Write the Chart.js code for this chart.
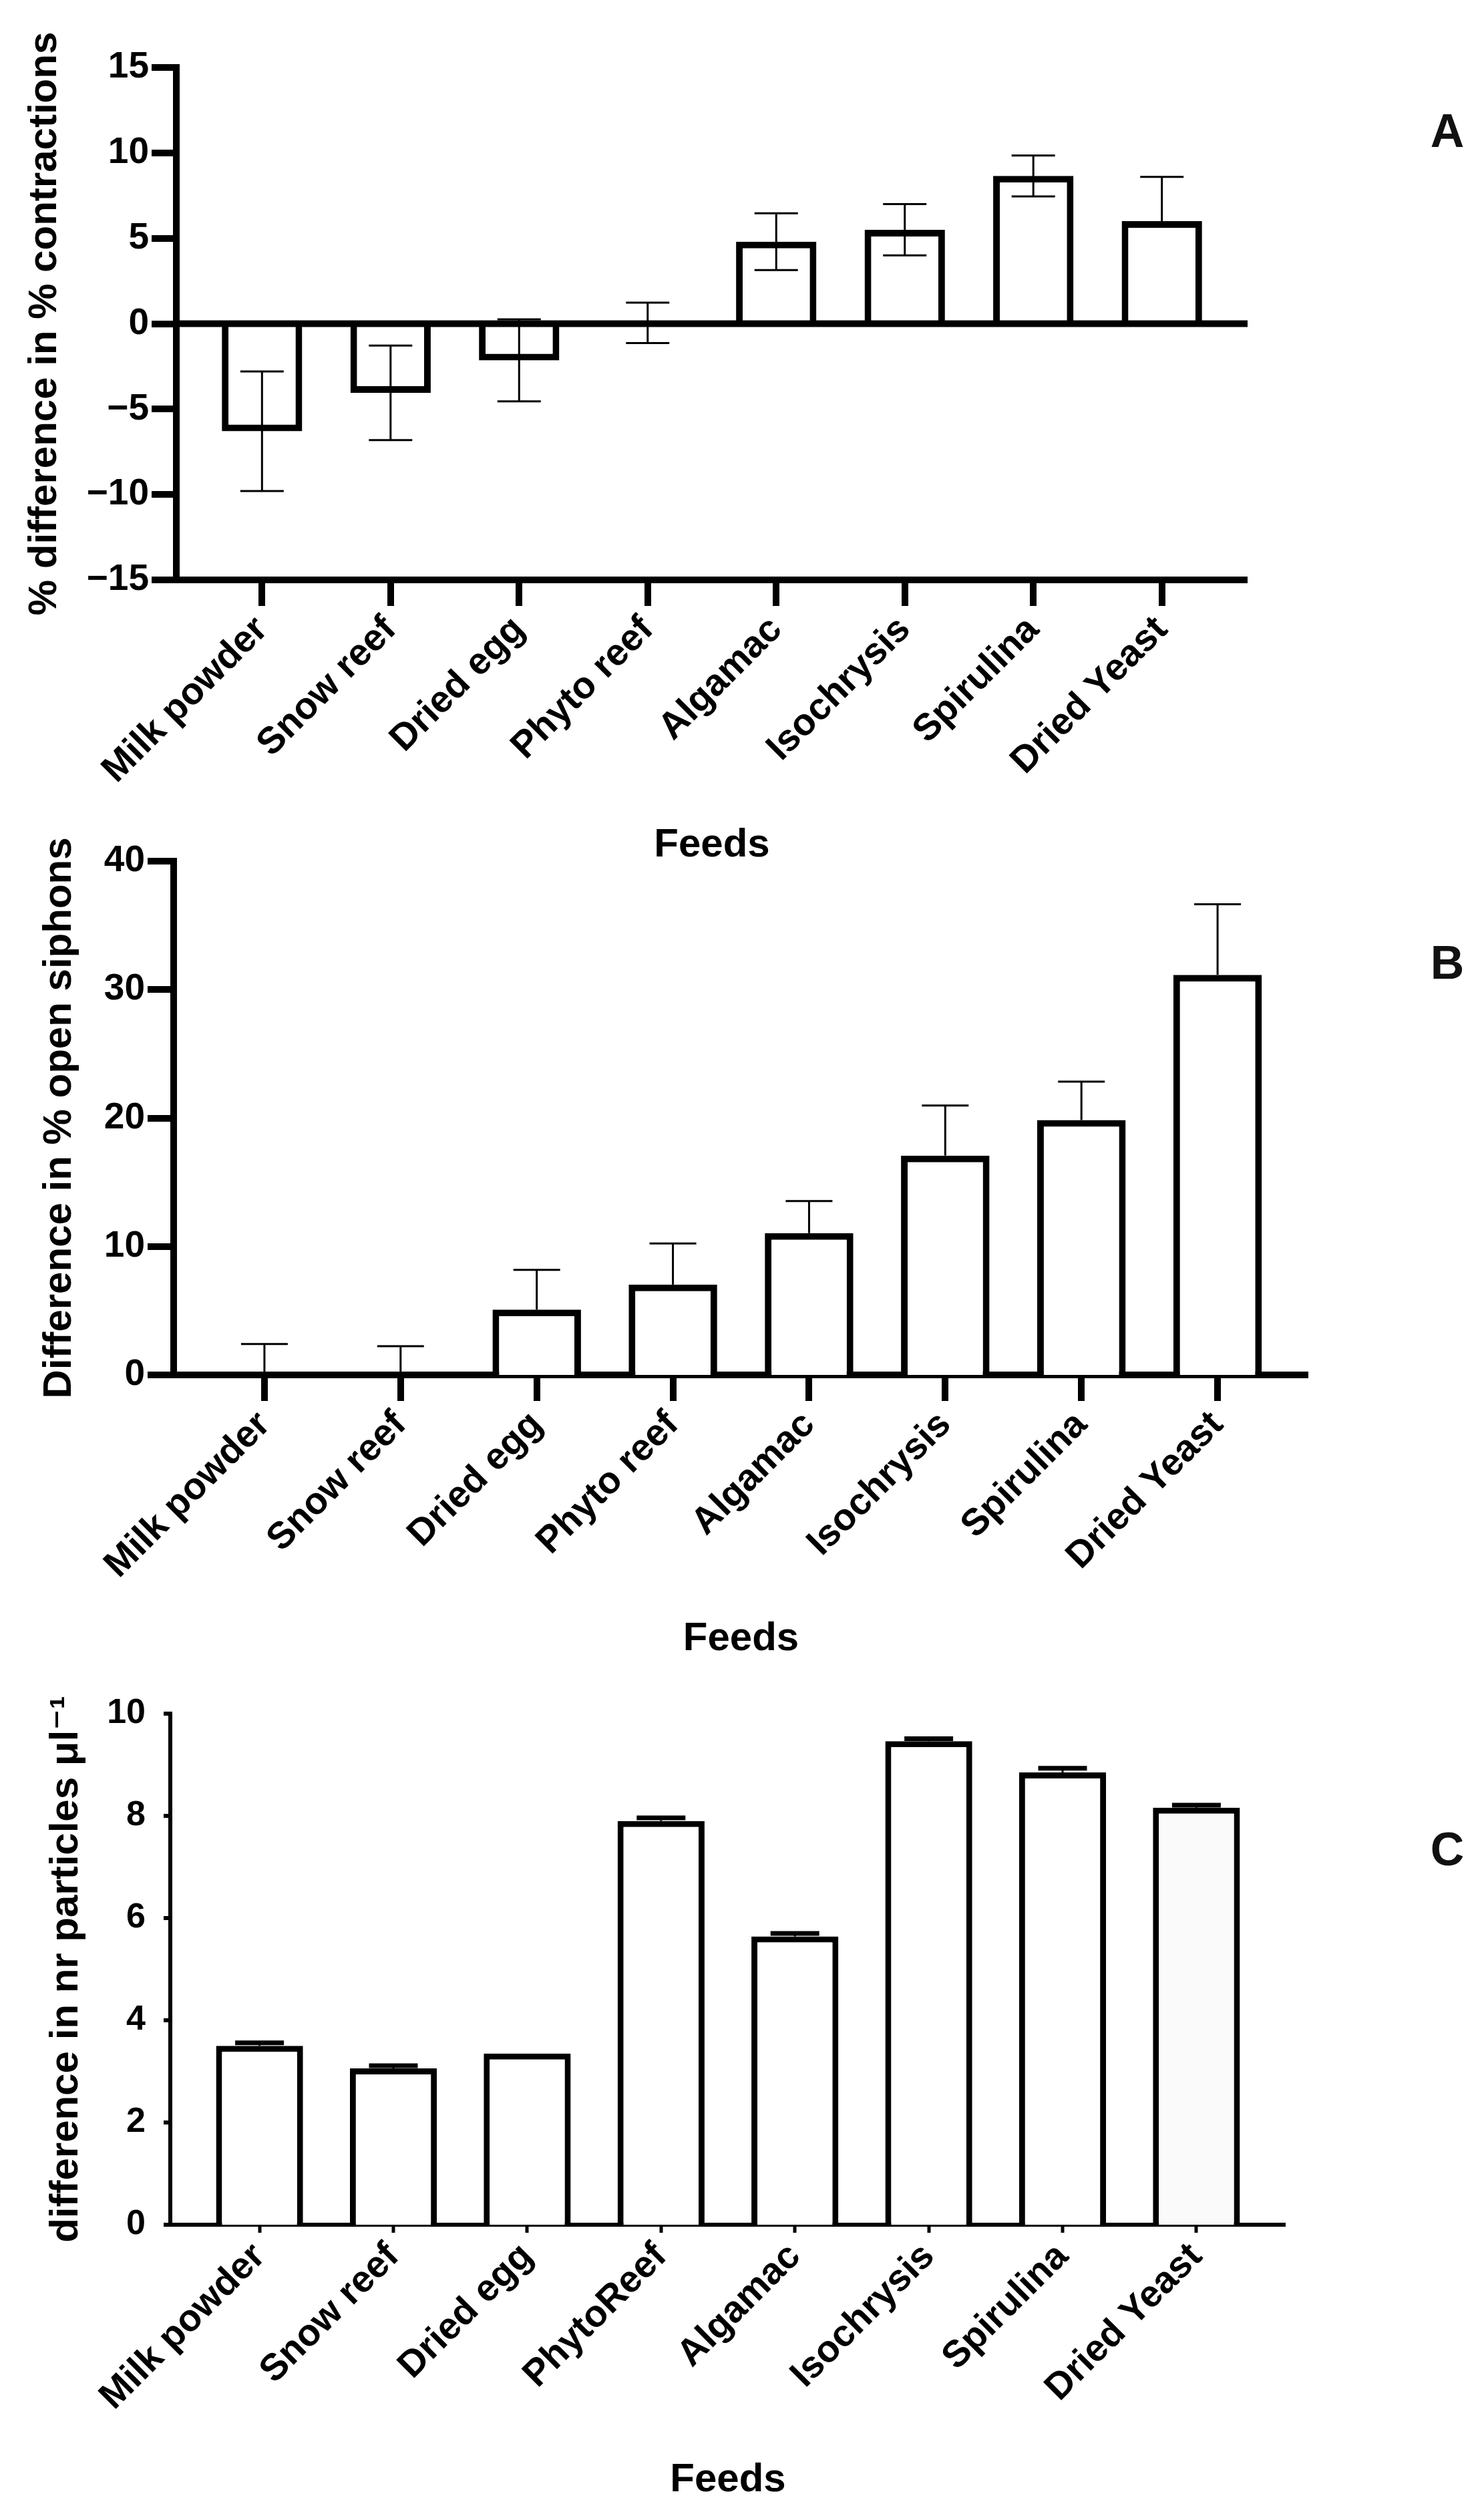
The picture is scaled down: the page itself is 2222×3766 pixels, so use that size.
<!DOCTYPE html>
<html>
<head>
<meta charset="utf-8">
<script src="https://cdn.jsdelivr.net/npm/chart.js@4.4.1/dist/chart.umd.min.js"></script>
<style>
  html, body { margin: 0; padding: 0; background: #fff; }
  #page { position: relative; width: 2222px; height: 3766px; overflow: hidden; background: #fff; }
  #page canvas { position: absolute; }
  .tag { position: absolute; font: bold 70px 'Liberation Sans', Arial, sans-serif; color: #111; line-height: 1; transform: translateX(-50%); }
</style>
</head>
<body>
<div id="page">
  <div class="tag" style="left:2167px;top:161px">A</div>
  <div class="tag" style="left:2167px;top:1406px">B</div>
  <div class="tag" style="left:2167px;top:2733px">C</div>
</div>
<script>
// categories
var feeds = ['Milk powder', 'Snow reef', 'Dried egg', 'Phyto reef', 'Algamac', 'Isochrysis', 'Spirulina', 'Dried Yeast'];
var feedsC = ['Milk powder', 'Snow reef', 'Dried egg', 'PhytoReef', 'Algamac', 'Isochrysis', 'Spirulina', 'Dried Yeast'];

// A: % difference in % contractions
var contractions = [-6.3, -4.05, -2.15, 0.05, 4.8, 5.5, 8.65, 6.0];
var contractionsUp = [3.5, 2.77, 2.4, 1.18, 1.66, 1.5, 1.2, 2.6];
var contractionsDown = [3.5, 2.77, 2.4, 1.18, 1.66, 1.5, 1.2, 0];
var contractionsTicks = [-15, -10, -5, 0, 5, 10, 15];

// B: difference in % open siphons
var siphons = [0, 0, 5.08, 7.03, 11.04, 17.08, 19.84, 31.15];
var siphonsUp = [2.4, 2.24, 3.1, 3.2, 2.5, 3.9, 3.0, 5.5];
var siphonsDown = [0, 0, 0, 0, 0, 0, 0, 0];
var siphonsTicks = [0, 10, 20, 30, 40];

// C: difference in nr particles per ul
var particles = [3.50, 3.06, 3.35, 7.90, 5.64, 9.46, 8.85, 8.16];
var particlesErr = [0.06, 0.05, 0, 0.06, 0.06, 0.05, 0.08, 0.05];
var particlesTicks = [0, 2, 4, 6, 8, 10];

Chart.defaults.font.family = "'Liberation Sans', Arial, 'DejaVu Sans', sans-serif";
Chart.defaults.color = '#000';

// zero line across the plot (panel A), over the bar bases
var zeroLine = {
    id: 'zeroLine',
    afterDatasetsDraw: function (chart) {
        var ds = chart.data.datasets[0];
        if (!ds.zeroLine) return;
        var y0 = chart.scales.y.getPixelForValue(0);
        var ctx = chart.ctx;
        ctx.save();
        ctx.strokeStyle = '#000';
        ctx.lineWidth = ds.zeroLine;
        ctx.beginPath();
        ctx.moveTo(chart.chartArea.left, y0);
        ctx.lineTo(chart.chartArea.right, y0);
        ctx.stroke();
        ctx.restore();
    }
};

var errorBars = {
    id: 'errorBars',
    afterDatasetsDraw: function (chart) {
        var ds = chart.data.datasets[0];
        var meta = chart.getDatasetMeta(0);
        var y = chart.scales.y;
        var ctx = chart.ctx;
        ctx.save();
        ctx.strokeStyle = '#000';
        meta.data.forEach(function (bar, i) {
            var v = ds.data[i].y;
            if (!ds.errUp[i] && !ds.errDown[i]) return;
            var top = y.getPixelForValue(v + ds.errUp[i]);
            var bot = y.getPixelForValue(v - ds.errDown[i]);
            var half = ds.capW / 2;
            ctx.lineWidth = ds.stemW;
            ctx.beginPath();
            ctx.moveTo(bar.x, top);
            ctx.lineTo(bar.x, bot);
            ctx.stroke();
            ctx.lineWidth = ds.capLine;
            if (ds.errUp[i] > 0) {
                ctx.beginPath();
                ctx.moveTo(bar.x - half, top);
                ctx.lineTo(bar.x + half, top);
                ctx.stroke();
            }
            if (ds.errDown[i] > 0) {
                ctx.beginPath();
                ctx.moveTo(bar.x - half, bot);
                ctx.lineTo(bar.x + half, bot);
                ctx.stroke();
            }
        });
        ctx.restore();
    }
};

function config(p) {
    var n = p.cats.length;
    return {
        type: 'bar',
        data: {
            datasets: [{
                data: p.values.map(function (v, i) { return { x: i, y: v }; }),
                errUp: p.up,
                errDown: p.down,
                capW: p.capW,
                capLine: p.capLine,
                stemW: 3,
                zeroLine: p.zeroLine ? p.axisW : 0,
                backgroundColor: p.fills,
                borderColor: '#000',
                borderWidth: p.barBorder,
                borderSkipped: 'start',
                inflateAmount: 0,
                barPercentage: p.barPct,
                categoryPercentage: 1
            }]
        },
        options: {
            responsive: false,
            animation: false,
            devicePixelRatio: 1,
            layout: { padding: { top: 130, right: 40, left: 0, bottom: 0 } },
            plugins: { legend: { display: false }, tooltip: { enabled: false } },
            scales: {
                x: {
                    type: 'linear',
                    z: 1,
                    min: -2 / 3,
                    max: n - 1 + 2 / 3,
                    offset: false,
                    afterBuildTicks: function (s) {
                        s.ticks = p.cats.map(function (c, i) { return { value: i }; });
                    },
                    afterFit: function (s) { s.height = p.xHeight; },
                    grid: {
                        offset: false,
                        drawOnChartArea: false,
                        drawTicks: true,
                        lineWidth: 0,
                        tickLength: p.xTickLen,
                        tickWidth: p.xTickW,
                        tickColor: '#000'
                    },
                    border: { display: true, color: '#000', width: p.axisW },
                    ticks: {
                        autoSkip: false,
                        minRotation: 45,
                        maxRotation: 45,
                        padding: 3,
                        font: { size: 56, weight: 'bold' },
                        callback: function (v) { return p.cats[v]; }
                    },
                    title: {
                        display: true,
                        text: 'Feeds',
                        font: { size: 60, weight: 'bold' },
                        padding: { top: 0, bottom: 0 }
                    }
                },
                y: {
                    min: p.ticks[0],
                    max: p.ticks[p.ticks.length - 1],
                    afterBuildTicks: function (s) {
                        s.ticks = p.ticks.map(function (v) { return { value: v }; });
                    },
                    afterFit: function (s) { s.width = p.left; },
                    grid: {
                        drawOnChartArea: false,
                        lineWidth: 0,
                        drawTicks: true,
                        tickLength: p.yTickLen,
                        tickWidth: p.yTickW,
                        tickColor: '#000'
                    },
                    border: { display: true, color: '#000', width: p.axisW },
                    ticks: {
                        padding: p.yTickPad,
                        font: { size: p.tickSize, weight: 'bold' },
                        callback: function (v) { return v < 0 ? '\u2212' + (-v) : String(v); }
                    },
                    title: {
                        display: true,
                        text: p.yTitle,
                        font: { size: 60, weight: 'bold' },
                        padding: { top: p.titlePad, bottom: 0 }
                    }
                }
            }
        },
        plugins: [zeroLine, errorBars]
    };
}

function buildPanel(p) {
    var page = document.getElementById('page');
    function make(w, h) {
        var c = document.createElement('canvas');
        c.width = w;
        c.height = h;
        c.style.width = w + 'px';
        c.style.height = h + 'px';
        page.appendChild(c);
        return { canvas: c, chart: new Chart(c, config(p)) };
    }
    // first pass to measure, second pass sized so the plot area lands where it should
    var first = make(p.right + 40, p.bottom - p.top + p.xHeight + 170);
    var a = first.chart.chartArea;
    var w = first.canvas.width + (p.right - p.left) - (a.right - a.left);
    var h = first.canvas.height + (p.bottom - p.top) - (a.bottom - a.top);
    first.chart.destroy();
    page.removeChild(first.canvas);
    var second = make(Math.round(w), Math.round(h));
    var b = second.chart.chartArea;
    second.canvas.style.left = (p.left - b.left) + 'px';
    second.canvas.style.top = (p.top - b.top) + 'px';
}

var white = ['#fff', '#fff', '#fff', '#fff', '#fff', '#fff', '#fff', '#fff'];

buildPanel({
    cats: feeds, values: contractions, up: contractionsUp, down: contractionsDown, ticks: contractionsTicks,
    yTitle: '% difference in % contractions', fills: white, zeroLine: true,
    left: 264, top: 101, right: 1868, bottom: 868, xHeight: 433, titlePad: 31,
    axisW: 10, barBorder: 10, yTickLen: 37, xTickLen: 39, yTickW: 10, xTickW: 10, yTickPad: 4, tickSize: 55,
    barPct: 0.625, capLine: 3, capW: 65
});

buildPanel({
    cats: feeds, values: siphons, up: siphonsUp, down: siphonsDown, ticks: siphonsTicks,
    yTitle: 'Difference in % open siphons', fills: white,
    left: 260, top: 1289, right: 1959, bottom: 2058, xHeight: 431, titlePad: 53,
    axisW: 10, barBorder: 10, yTickLen: 39, xTickLen: 39, yTickW: 10, xTickW: 10, yTickPad: 4, tickSize: 55,
    barPct: 0.65, capLine: 3, capW: 70
});

buildPanel({
    cats: feedsC, values: particles, up: particlesErr, down: [0, 0, 0, 0, 0, 0, 0, 0], ticks: particlesTicks,
    yTitle: 'difference in nr particles \u03bcl\u207b\u00b9',
    fills: ['#fff', '#fff', '#fff', '#fff', '#fff', '#fff', '#fff', '#fafafa'],
    left: 255, top: 2565, right: 1925, bottom: 3330, xHeight: 418, titlePad: 63,
    axisW: 6, barBorder: 9, yTickLen: 10, xTickLen: 12, yTickW: 6, xTickW: 5, yTickPad: 27, tickSize: 52,
    barPct: 0.65, capLine: 7, capW: 73
});
</script>
</body>
</html>
